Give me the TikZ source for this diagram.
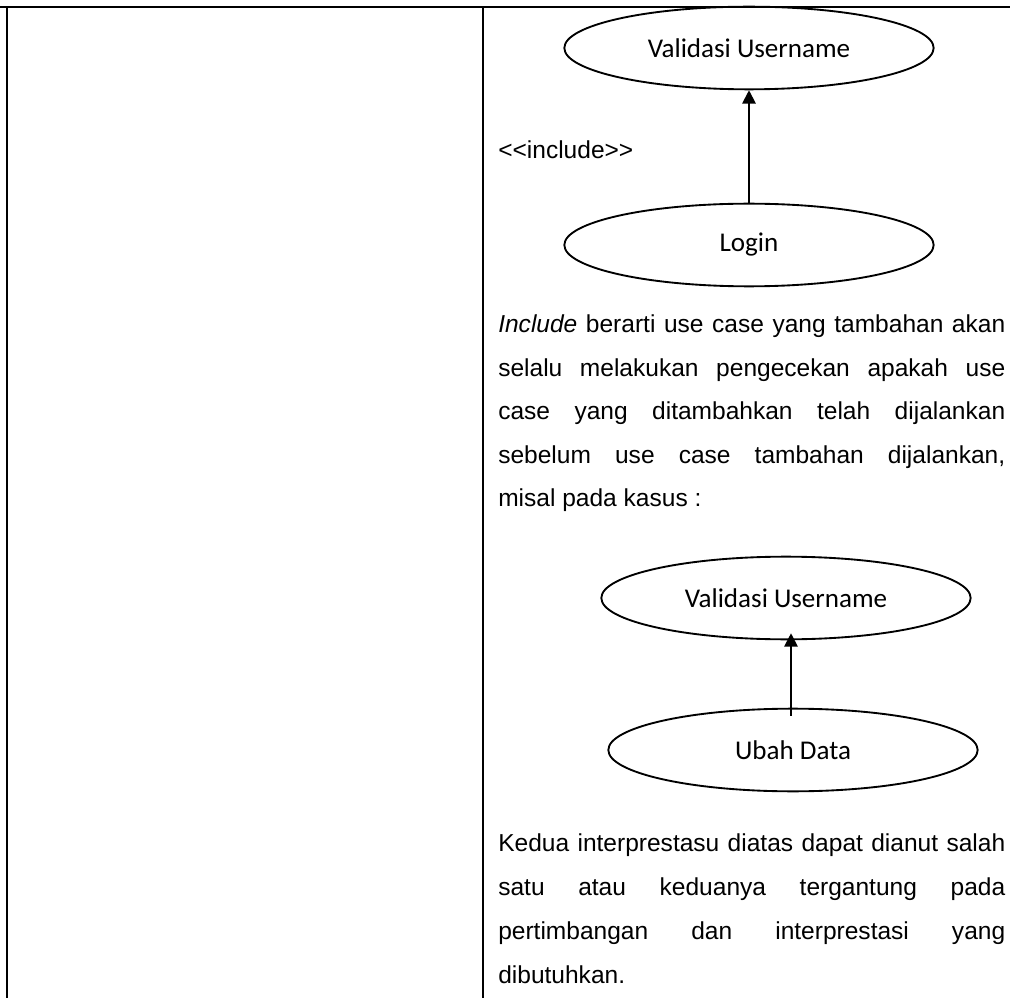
\documentclass[tikz,border=0pt]{standalone}
\usepackage{fontspec}
\setmainfont{Liberation Sans}
\newfontfamily\ucfont{Carlito}
\usetikzlibrary{shapes.geometric,arrows.meta}

% one justified line of the description column
\newcommand\jline[1]{\makebox[380.25pt][s]{#1}}

\begin{document}
\begin{tikzpicture}[x=0.75pt,y=-0.75pt,
  usecase/.style={draw,ellipse,line width=1.4pt,inner sep=0pt,
    minimum width=277pt,minimum height=62pt,font=\ucfont\fontsize{20.3}{24}\selectfont},
  incl/.style={-{Triangle[length=10pt,width=10pt]},line width=1.4pt},
  body/.style={anchor=base west,inner sep=0pt,font=\fontsize{18.4}{22}\selectfont},
  rule/.style={line width=1pt},
  toprule/.style={line width=1.8pt}]
\useasboundingbox (0,0) rectangle (1010,998);

% table frame
\draw[toprule] (0,7) -- (1010,7);
\draw[rule] (7,7) -- (7,998);
\draw[rule] (483,7) -- (483,998);

% first include example
\node[usecase] (val1) at (749,48) {Validasi Username};
\node[usecase] (login) at (749,245) {Login};
\draw[incl] (login.north) -- (val1.south);
\node[body] (lbl) at (498,159) {<{}<include>{}>};

% explanation
\node[body] (p1a) at (498,333) {\jline{\textit{Include} berarti use case yang tambahan akan}};
\node[body] (p1b) at (498,377) {\jline{selalu melakukan pengecekan apakah use}};
\node[body] (p1c) at (498,420) {\jline{case yang ditambahkan telah dijalankan}};
\node[body] (p1d) at (498,463) {\jline{sebelum use case tambahan dijalankan,}};
\node[body] (p1e) at (498,506) {misal pada kasus :};

% second include example
\node[usecase] (val2) at (786,598) {Validasi Username};
\node[usecase] (ubah) at (793,750) {Ubah Data};
\draw[incl] ([shift={(-2,8)}]ubah.north) -- ([shift={(5,-7)}]val2.south);

% closing paragraph
\node[body] (p2a) at (498,851) {\jline{Kedua interprestasu diatas dapat dianut salah}};
\node[body] (p2b) at (498,895) {\jline{satu atau keduanya tergantung pada}};
\node[body] (p2c) at (498,939) {\jline{pertimbangan dan interprestasi yang}};
\node[body] (p2d) at (498,983) {dibutuhkan.};
\end{tikzpicture}
\end{document}
